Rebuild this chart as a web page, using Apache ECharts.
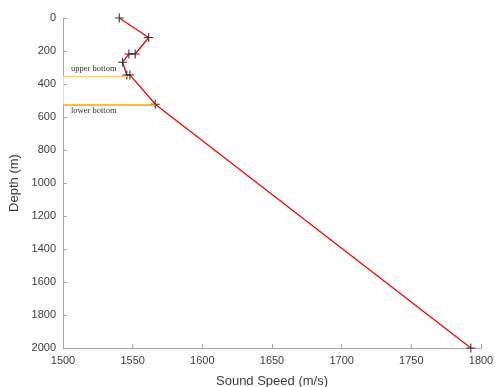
<!DOCTYPE html>
<html>
<head>
<meta charset="utf-8">
<script src="https://cdn.jsdelivr.net/npm/echarts@6/dist/echarts.min.js"></script>
<style>html,body{margin:0;padding:0;background:#fff}#c{width:495px;height:387px}</style>
</head>
<body>
<div id="c"></div>
<script>
var soundSpeed = [1540.4, 1561.5, 1551.8, 1547.3, 1542.8, 1545.8, 1548.0, 1566.2, 1792.7];
var depth = [0, 118, 218, 218, 268, 345, 345, 523, 2000];
var upperBottom = { depth: 350, speed: 1546, label: 'upper bottom' };
var lowerBottom = { depth: 525, speed: 1566.2, label: 'lower bottom' };
var xTicks = { min: 1500, max: 1800, step: 50 };
var yTicks = { min: 0, max: 2000, step: 200 };

var pts = soundSpeed.map(function (s, i) { return [s, depth[i]]; });
var plus = 'path://M0,4.4 H10 V5.6 H0 Z M4.4,0 H5.6 V10 H4.4 Z';
var chart = echarts.init(document.getElementById('c'));
var axisColor = '#a6a6a6';
var labelColor = '#3c3c3c';
function plain(v) { return String(v); }
chart.setOption({
  animation: false,
  grid: { left: 63, right: 14, top: 18, bottom: 39, containLabel: false, outerBoundsMode: 'none' },
  xAxis: {
    type: 'value', min: xTicks.min, max: xTicks.max, interval: xTicks.step,
    position: 'bottom',
    name: 'Sound Speed (m/s)', nameLocation: 'middle', nameGap: 27,
    nameTextStyle: { fontFamily: 'Liberation Sans', fontSize: 13, color: labelColor },
    axisLine: { onZero: false, lineStyle: { color: axisColor } },
    axisTick: { inside: true, length: 4, lineStyle: { color: axisColor } },
    axisLabel: { fontFamily: 'Liberation Sans', fontSize: 11, color: labelColor, margin: 7, formatter: plain },
    splitLine: { show: false }
  },
  yAxis: {
    type: 'value', inverse: true, min: yTicks.min, max: yTicks.max, interval: yTicks.step,
    name: 'Depth (m)', nameLocation: 'middle', nameGap: 29,
    nameTextStyle: { fontFamily: 'Liberation Sans', fontSize: 13, color: labelColor },
    axisLine: { show: true, onZero: false, lineStyle: { color: axisColor } },
    axisTick: { show: true, inside: true, length: 4, lineStyle: { color: axisColor } },
    axisLabel: { fontFamily: 'Liberation Sans', fontSize: 11, color: labelColor, margin: 7, formatter: plain },
    splitLine: { show: false }
  },
  series: [{
    type: 'line',
    data: pts,
    symbol: plus,
    symbolSize: 9,
    showAllSymbol: true,
    itemStyle: { color: '#333333' },
    lineStyle: { color: '#ff0000', width: 1.3 },
    z: 3,
    markLine: {
      silent: true, symbol: 'none', animation: false,
      data: [
        [{ coord: [xTicks.min, upperBottom.depth], lineStyle: { color: '#ffc56a', width: 1, type: 'solid' },
           label: { show: true, formatter: upperBottom.label, position: 'insideStartTop', distance: [8, 2], fontFamily: 'Liberation Serif', fontSize: 8.5, color: '#333' } },
         { coord: [upperBottom.speed, upperBottom.depth] }],
        [{ coord: [xTicks.min, lowerBottom.depth], lineStyle: { color: '#ffa500', width: 1.5, type: 'solid' },
           label: { show: true, formatter: lowerBottom.label, position: 'insideStartBottom', distance: [8, 2], fontFamily: 'Liberation Serif', fontSize: 8.5, color: '#333' } },
         { coord: [lowerBottom.speed, lowerBottom.depth] }],
        [{ coord: [xTicks.min, upperBottom.depth], lineStyle: { color: '#ffdca0', width: 1, type: 'solid' }, label: { show: false } },
         { coord: [xTicks.min, lowerBottom.depth] }]
      ]
    }
  }]
});
</script>
</body>
</html>
